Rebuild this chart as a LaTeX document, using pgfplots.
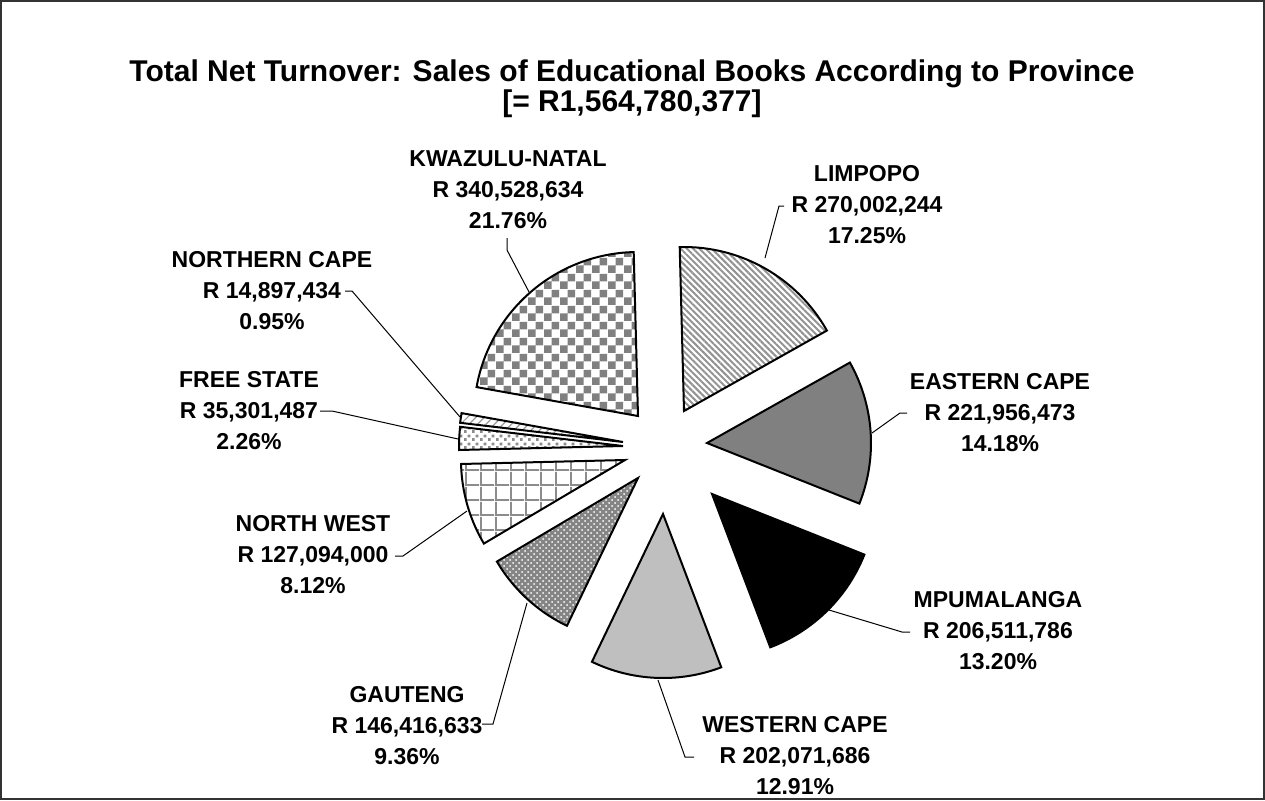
\documentclass[border=0pt]{standalone}
\usepackage{pgfplots}
\pgfplotsset{compat=1.18}
\usepackage{fontspec}
\setmainfont{Liberation Sans}
\usetikzlibrary{patterns,patterns.meta}

% ---- data (Rand, in millions) ----
\def\vLIM{270.002244}
\def\vEC{221.956473}
\def\vMP{206.511786}
\def\vWC{202.071686}
\def\vGT{146.416633}
\def\vNW{127.094000}
\def\vFS{35.301487}
\def\vNC{14.897434}
\def\vKZN{340.528634}
\pgfmathsetmacro\tot{\vLIM+\vEC+\vMP+\vWC+\vGT+\vNW+\vFS+\vNC+\vKZN}
\def\aStart{-1.5}
\pgfmathsetmacro\aA{\aStart}
\pgfmathsetmacro\aB{\aA+360*(\vLIM/\tot)}
\pgfmathsetmacro\aC{\aB+360*(\vEC/\tot)}
\pgfmathsetmacro\aD{\aC+360*(\vMP/\tot)}
\pgfmathsetmacro\aE{\aD+360*(\vWC/\tot)}
\pgfmathsetmacro\aF{\aE+360*(\vGT/\tot)}
\pgfmathsetmacro\aG{\aF+360*(\vNW/\tot)}
\pgfmathsetmacro\aH{\aG+360*(\vFS/\tot)}
\pgfmathsetmacro\aI{\aH+360*(\vNC/\tot)}
\pgfmathsetmacro\aJ{\aI+360*(\vKZN/\tot)}

\tikzdeclarepattern{
  name=kzncheck, type=uncolored,
  bottom left={(0pt,0pt)}, top right={(8pt,8pt)}, tile size={(8pt,8pt)},
  code={\pgfpathrectangle{\pgfpoint{0pt}{0pt}}{\pgfpoint{4pt}{4pt}}
        \pgfpathrectangle{\pgfpoint{4pt}{4pt}}{\pgfpoint{4pt}{4pt}}
        \pgfusepath{fill}}}
\tikzdeclarepattern{
  name=nwgrid, type=uncolored,
  bottom left={(0pt,0pt)}, top right={(7.5pt,7.5pt)}, tile size={(7.5pt,7.5pt)},
  code={\pgfpathrectangle{\pgfpoint{0pt}{0pt}}{\pgfpoint{1pt}{7.5pt}}
        \pgfpathrectangle{\pgfpoint{0pt}{0pt}}{\pgfpoint{7.5pt}{1pt}}
        \pgfusepath{fill}}}
\tikzdeclarepattern{
  name=fsdots, type=uncolored,
  bottom left={(0pt,0pt)}, top right={(4pt,4pt)}, tile size={(4pt,4pt)},
  code={\pgfpathrectangle{\pgfpoint{0pt}{0pt}}{\pgfpoint{1.5pt}{1.5pt}}
        \pgfpathrectangle{\pgfpoint{2pt}{2pt}}{\pgfpoint{1.5pt}{1.5pt}}
        \pgfusepath{fill}}}

\tikzset{
  lbl/.style={align=center, inner sep=0pt, font=\bfseries\fontsize{11.5}{15.5}\selectfont},
  ld/.style={line width=0.5pt}}

% slice: apex x, apex y, start (cw from top), end, fill options, pattern options
\newcommand\pieslice[6]{%
  \fill[#5] (axis cs:#1,#2) -- ++({90-(#3)}:82pt) arc[start angle={90-(#3)}, end angle={90-(#4)}, radius=82pt] -- cycle;
  \fill[#6] (axis cs:#1,#2) -- ++({90-(#3)}:82pt) arc[start angle={90-(#3)}, end angle={90-(#4)}, radius=82pt] -- cycle;
  \draw[line width=1pt, line join=miter] (axis cs:#1,#2) -- ++({90-(#3)}:82pt) arc[start angle={90-(#3)}, end angle={90-(#4)}, radius=82pt] -- cycle;}

\begin{document}
\begin{tikzpicture}
\begin{axis}[
  x=0.5pt, y=0.5pt, xmin=0, xmax=1265, ymin=0, ymax=800,
  y dir=reverse, hide axis, clip=false, scale only axis]
\addplot[draw=none, forget plot] coordinates {(0,0) (1265,800)};

\draw[line width=1pt, black!80] (axis cs:1,1) rectangle (axis cs:1264,799);

\node[align=center, inner sep=0pt, font=\bfseries\fontsize{15}{15}\selectfont]
  at (axis cs:632,89) {Total Net Turnover: Sales of Educational Books According to Province\\{}[= R1,564,780,377]};

\pieslice{684}{411}{\aA}{\aB}{white}{pattern={Lines[angle=-45,distance=2.2pt,line width=1pt]}, pattern color=gray!85}
\pieslice{707}{443}{\aB}{\aC}{fill=black!50}{fill=black!50}
\pieslice{712}{494}{\aC}{\aD}{fill=black}{fill=black}
\pieslice{663}{514}{\aD}{\aE}{fill=black!25}{fill=black!25}
\pieslice{638}{478}{\aE}{\aF}{fill=black!48}{pattern=crosshatch dots, pattern color=white}
\pieslice{625}{460}{\aF}{\aG}{white}{pattern=nwgrid, pattern color=black!45}
\pieslice{623}{446}{\aG}{\aH}{white}{pattern=fsdots, pattern color=black!45}
\pieslice{623}{442}{\aH}{\aI}{white}{pattern={Lines[angle=45,distance=3pt,line width=0.6pt]}, pattern color=black!40}
\pieslice{638}{416}{\aI}{\aJ}{white}{pattern=kzncheck, pattern color=black!50}

% leader lines
\draw[ld] (axis cs:765,258) -- (axis cs:779,206) -- (axis cs:784,206);
\draw[ld] (axis cs:872,433) -- (axis cs:900,413) -- (axis cs:907,413);
\draw[ld] (axis cs:829,610) -- (axis cs:902,632) -- (axis cs:910,632);
\draw[ld] (axis cs:658,680) -- (axis cs:685,757) -- (axis cs:694,757);
\draw[ld] (axis cs:527,603) -- (axis cs:493,724) -- (axis cs:482,724);
\draw[ld] (axis cs:467,511) -- (axis cs:403,556) -- (axis cs:395,556);
\draw[ld] (axis cs:458,439) -- (axis cs:332,411) -- (axis cs:320,411);
\draw[ld] (axis cs:460,417) -- (axis cs:352,291) -- (axis cs:345,291);
\draw[ld] (axis cs:529,292) -- (axis cs:507,250) -- (axis cs:507,238);

% labels
\node[lbl] at (axis cs:867,205) {LIMPOPO\\R 270,002,244\\17.25\%};
\node[lbl] at (axis cs:1000,413) {EASTERN CAPE\\R 221,956,473\\14.18\%};
\node[lbl] at (axis cs:998,631) {MPUMALANGA\\R 206,511,786\\13.20\%};
\node[lbl] at (axis cs:795,756) {WESTERN CAPE\\R 202,071,686\\12.91\%};
\node[lbl] at (axis cs:407,726) {GAUTENG\\R 146,416,633\\9.36\%};
\node[lbl] at (axis cs:313,555) {NORTH WEST\\R 127,094,000\\8.12\%};
\node[lbl] at (axis cs:249,411) {FREE STATE\\R 35,301,487\\2.26\%};
\node[lbl] at (axis cs:272,291) {NORTHERN CAPE\\R 14,897,434\\0.95\%};
\node[lbl] at (axis cs:508,190) {KWAZULU-NATAL\\R 340,528,634\\21.76\%};
\end{axis}
\end{tikzpicture}
\end{document}
